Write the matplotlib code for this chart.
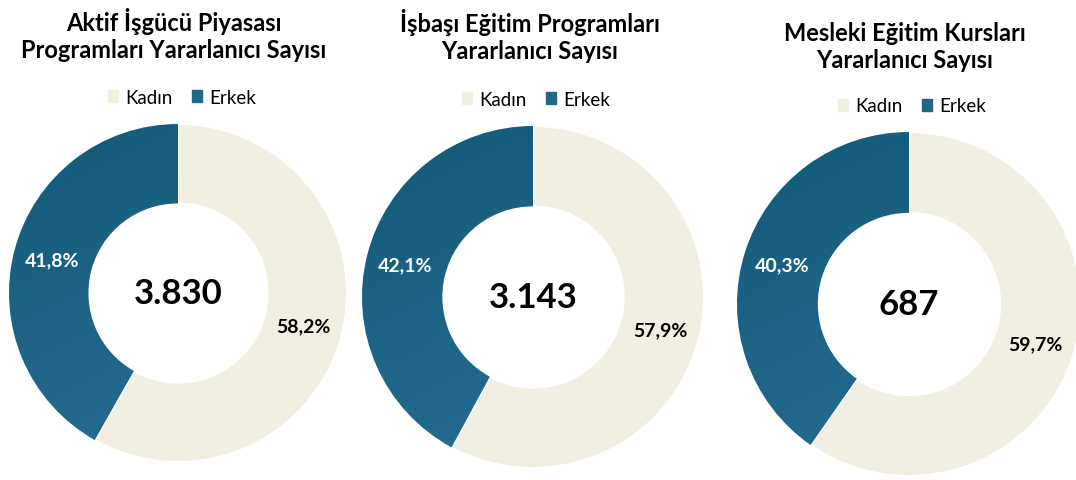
import matplotlib.pyplot as plt
import numpy as np
from matplotlib.patches import Patch
from matplotlib.colors import LinearSegmentedColormap

plt.rcParams['font.family'] = ['Lato', 'DejaVu Sans']

# veriler
titles = ['Aktif İşgücü Piyasası\nProgramları Yararlanıcı Sayısı',
          'İşbaşı Eğitim Programları\nYararlanıcı Sayısı',
          'Mesleki Eğitim Kursları\nYararlanıcı Sayısı']
categories = ['Kadın', 'Erkek']
kadin = [58.2, 57.9, 59.7]
erkek = [41.8, 42.1, 40.3]
totals = ['3.830', '3.143', '687']

colors = ['#f0efe2', '#20678a']
blue_grad = LinearSegmentedColormap.from_list('mavi', ['#115a77', '#2c7099'])
W, H = 1076, 481

# piksel cinsinden yerleşim (merkez x, merkez y, yarıçap)
centers = [(178, 294, 169), (533, 298, 171), (909, 305, 172)]
title_pos = [(174, 35), (530, 36), (905, 47)]
legend_pos = [(182, 98), (536, 100), (912, 107)]

fig = plt.figure(figsize=(W / 100, H / 100), dpi=100)

for i in range(3):
    cx, cy, r = centers[i]
    ax = fig.add_axes([(cx - r) / W, 1 - (cy + r) / H, 2 * r / W, 2 * r / H])
    wedges, texts, autotexts = ax.pie(
        [kadin[i], erkek[i]], colors=colors, startangle=90, counterclock=False,
        radius=1, pctdistance=0.77,
        autopct=lambda p: f'{p:.1f}%'.replace('.', ','),
        wedgeprops=dict(width=0.47, edgecolor='white', linewidth=1.5))

    # Erkek dilimi için hafif degrade (sol üst koyu, alt açık)
    g = np.linspace(0, 1, 200)
    grad = (0.5 * g[None, :] + g[:, None]) / 1.5
    im = ax.imshow(grad, extent=(-1, 1, -1, 1), cmap=blue_grad, origin='upper', zorder=1.5)
    im.set_clip_path(wedges[1])
    wedges[1].set_zorder(1)

    autotexts[0].set_color('black')
    autotexts[1].set_color('white')
    for t in autotexts:
        t.set_fontsize(14)
        t.set_fontweight('bold')
        t.set_zorder(3)
    ax.text(0, 0, totals[i], ha='center', va='center', fontsize=25, fontweight='bold')
    ax.set_xlim(-1, 1)
    ax.set_ylim(-1, 1)
    ax.axis('off')

    tx, ty = title_pos[i]
    fig.text(tx / W, 1 - ty / H, titles[i], ha='center', va='center',
             fontsize=17, fontweight='bold', linespacing=1.25)

    handles = [Patch(color=c) for c in colors]
    lx, ly = legend_pos[i]
    fig.legend(handles, categories, loc='center', bbox_to_anchor=(lx / W, 1 - ly / H),
               ncol=2, frameon=False, fontsize=13.5, handlelength=0.55, handleheight=0.55,
               handletextpad=0.4, columnspacing=1.0)

plt.savefig('out.png', dpi=100)
